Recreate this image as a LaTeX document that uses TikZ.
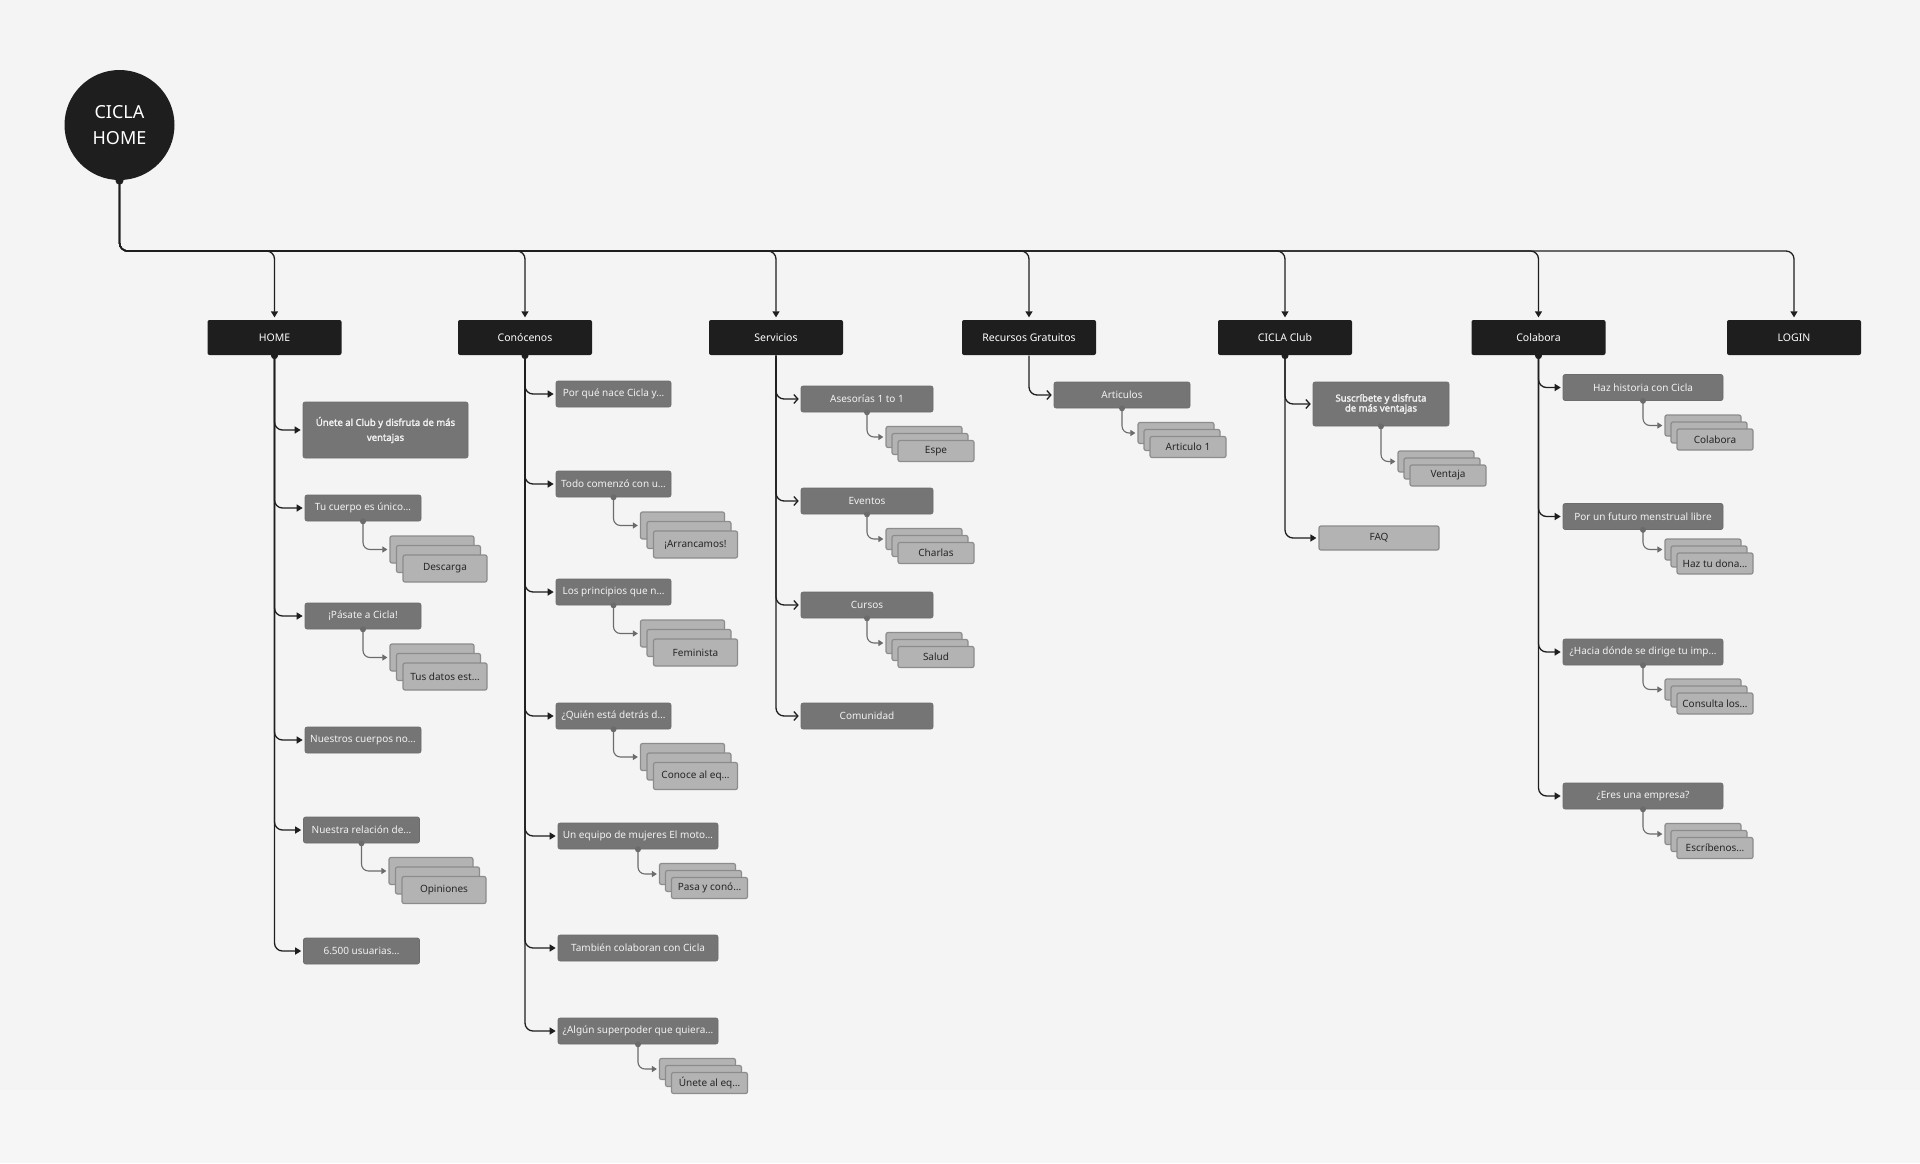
\documentclass[tikz,border=0pt]{standalone}
\usepackage{fontspec}
\setmainfont{Noto Sans}[AutoFakeBold=2.2]
\usetikzlibrary{%
  arrows.meta,%
  positioning,%
  calc%
}
\definecolor{cdark}{HTML}{1E1E1E}
\definecolor{cmid}{HTML}{757575}
\definecolor{clight}{HTML}{B3B3B3}
\definecolor{clightline}{HTML}{8C8C8C}
\definecolor{cgray}{HTML}{6B6B6B}
\definecolor{cbg}{HTML}{F4F4F4}
\definecolor{cbgb}{HTML}{F6F6F6}

\begin{document}
\begin{tikzpicture}
  [
  x=1pt, y=-1pt, line width=1.3pt,
  rootnode/.style={circle, fill=cdark, minimum size=110pt, inner sep=0pt, text=white, align=center, font=\fontsize{18}{26}\selectfont},
  topnode/.style={rectangle, rounded corners=2pt, fill=cdark, minimum width=134pt, minimum height=35pt, text=white, font=\fontsize{10.5}{12}\selectfont},
  secnode/.style={rectangle, rounded corners=2pt, fill=cmid, draw=cmid!92!black, line width=0.6pt, minimum height=26pt, inner sep=2pt, text=white!95!black, font=\fontsize{10}{12}\selectfont},
  boldnode/.style={secnode, align=center, font=\fontsize{9.5}{#1}\selectfont\bfseries},
  pagenode/.style={rectangle, rounded corners=2pt, fill=clight, draw=clightline, line width=1.2pt, minimum width=84pt, minimum height=27pt, inner sep=1pt, text=black!85, font=\fontsize{10}{12}\selectfont},
  smallpage/.style={pagenode, minimum width=76pt, minimum height=21pt},
  link/.style={draw=cdark, rounded corners=8pt, shorten >=2pt, -{Triangle[length=6pt,width=7pt]}},
  openlink/.style={link, -{Straight Barb[length=4pt,width=9pt]}},
  sublink/.style={draw=cgray, line width=1.1pt, rounded corners=7pt, shorten >=2pt, -{Triangle[length=5pt,width=6pt]}},
  ]

  % background
  \fill[cbg] (0,0) rectangle (1920,1090);
  \fill[cbgb] (0,1090) rectangle (1920,1163);
  \useasboundingbox (0,0) rectangle (1920,1163);

  \node[rootnode] (root) at (119.5,125) {CICLA\\HOME};
  \coordinate (bus) at (119.5,251);

  % main sections
  \foreach \n/\x/\t in {home/274.5/HOME, conocenos/525/Conócenos, servicios/776/Servicios,
      recursos/1029/Recursos Gratuitos, club/1285/CICLA Club, colabora/1538.5/Colabora, login/1794/LOGIN} {
    \node[topnode] (\n) at (\x,337.5) {\t};
    \draw[link] (root.south) |- (\n.north |- bus) -- (\n.north);
  }
  \fill[cdark] (root.south) circle (4pt);

  % HOME
  \node[boldnode=15, minimum width=165pt, minimum height=56pt] (h1) at (385.5,430) {Únete al Club y disfruta de más\\ventajas};
  \foreach \n/\x/\y/\t in {h2/363/508/Tu cuerpo es único…, h3/363/616/¡Pásate a Cicla!, h4/363/740/Nuestros cuerpos no…,
      h5/361.5/830/Nuestra relación de…, h6/361.5/951/6.500 usuarias…}
    \node[secnode, minimum width=116pt] (\n) at (\x,\y) {\t};

  % Conócenos
  \foreach \n/\y/\t in {c1/394/Por qué nace Cicla y…, c2/484/Todo comenzó con u…, c3/592/Los principios que n…, c4/716/¿Quién está detrás d…}
    \node[secnode, minimum width=115pt] (\n) at (613.5,\y) {\t};
  \foreach \n/\y/\t in {c5/836/Un equipo de mujeres El moto…, c6/948/También colaboran con Cicla, c7/1031/¿Algún superpoder que quiera…}
    \node[secnode, minimum width=160pt] (\n) at (638,\y) {\t};

  % Servicios
  \foreach \n/\y/\t in {s1/399/Asesorías 1 to 1, s2/501/Eventos, s3/605/Cursos, s4/716/Comunidad}
    \node[secnode, minimum width=132pt] (\n) at (867,\y) {\t};

  % Recursos Gratuitos
  \node[secnode, minimum width=136pt] (r1) at (1122,395) {Articulos};

  % CICLA Club
  \node[boldnode=10, minimum width=136pt, minimum height=44pt] (k1) at (1381,404) {Suscríbete y disfruta\\de más ventajas};
  \node[pagenode, minimum width=120pt, minimum height=24pt] (k2) at (1379,538) {FAQ};

  % Colabora
  \foreach \n/\y/\t in {b1/387.5/Haz historia con Cicla, b2/516.5/Por un futuro menstrual libre,
      b3/652/¿Hacia dónde se dirige tu imp…, b4/796/¿Eres una empresa?}
    \node[secnode, minimum width=160pt] (\n) at (1643,\y) {\t};

  % page stacks
  \foreach \n/\x/\y/\t in {hs1/445/568.5/Descarga, hs2/445/676.5/Tus datos est…, hs3/444/890/Opiniones,
      cs1/695.5/544.5/¡Arrancamos!, cs2/695.5/652.5/Feminista, cs3/695.5/776/Conoce al eq…} {
    \node[pagenode] (\n-c) at (\x-13,\y-19) {};
    \node[pagenode] (\n-b) at (\x-6.5,\y-9.5) {};
    \node[pagenode] (\n) at (\x,\y) {\t};
  }
  \foreach \n/\x/\y/\t in {cs4/709.5/888/Pasa y conó…, cs5/709.5/1083/Únete al eq…,
      ss1/936/451/Espe, ss2/936/553/Charlas, ss3/936/657/Salud, rs1/1188/447/Articulo 1, ks1/1448/475.5/Ventaja,
      bs1/1715/439.5/Colabora, bs2/1715/563.5/Haz tu dona…, bs3/1715/703.5/Consulta los…, bs4/1715/848/Escríbenos…} {
    \node[smallpage] (\n-c) at (\x-12,\y-14) {};
    \node[smallpage] (\n-b) at (\x-6,\y-7) {};
    \node[smallpage] (\n) at (\x,\y) {\t};
  }

  % links
  \foreach \p/\c in {home/h1, home/h2, home/h3, home/h4, home/h5, home/h6,
      conocenos/c1, conocenos/c2, conocenos/c3, conocenos/c4, conocenos/c5, conocenos/c6, conocenos/c7,
      club/k2, colabora/b1, colabora/b2, colabora/b3, colabora/b4}
    \draw[link] (\p.south) |- (\c.west);
  \foreach \p/\c in {servicios/s1, servicios/s2, servicios/s3, servicios/s4, recursos/r1, club/k1}
    \draw[openlink] (\p.south) |- (\c.west);
  \foreach \p in {home, conocenos, club, colabora}
    \fill[cdark] (\p.south) circle (3.5pt);

  \foreach \p/\c in {h2/hs1, h3/hs2, h5/hs3, c2/cs1, c3/cs2, c4/cs3, c5/cs4, c7/cs5,
      s1/ss1, s2/ss2, s3/ss3, r1/rs1, k1/ks1, b1/bs1, b2/bs2, b3/bs3, b4/bs4} {
    \draw[sublink] (\p.south) |- (\c-c.west);
    \fill[cgray] (\p.south) circle (3pt);
  }

\end{tikzpicture}
\end{document}
